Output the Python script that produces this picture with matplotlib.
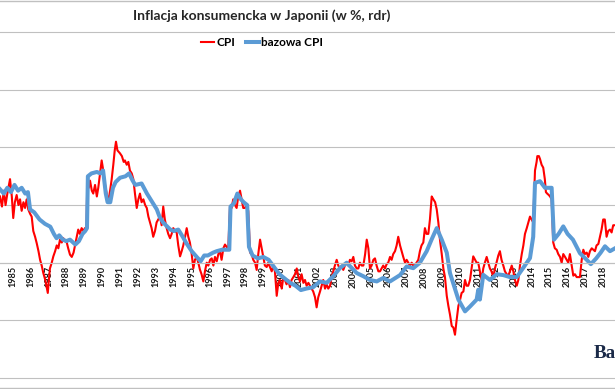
import matplotlib.pyplot as plt
from matplotlib.lines import Line2D

# headline CPI, y/y % (x = decimal year)
cpi_years = [
    1984.29, 1984.4, 1984.5, 1984.6, 1984.7, 1984.85, 1984.95, 1985.03, 1985.12, 1985.22,
    1985.32, 1985.41, 1985.5, 1985.6, 1985.69, 1985.78, 1985.87, 1985.97, 1986.06, 1986.15,
    1986.25, 1986.34, 1986.44, 1986.53, 1986.62, 1986.71, 1986.82, 1986.96, 1987.02, 1987.08,
    1987.18, 1987.27, 1987.37, 1987.46, 1987.55, 1987.64, 1987.74, 1987.83, 1987.92, 1988.02,
    1988.1, 1988.2, 1988.3, 1988.4, 1988.48, 1988.57, 1988.66, 1988.75, 1988.85, 1988.95,
    1989.04, 1989.12, 1989.17, 1989.25, 1989.32, 1989.42, 1989.5, 1989.6, 1989.7, 1989.78,
    1989.88, 1989.97, 1990.06, 1990.16, 1990.25, 1990.34, 1990.44, 1990.53, 1990.62, 1990.7,
    1990.77, 1990.85, 1990.99, 1991.1, 1991.2, 1991.27, 1991.37, 1991.46, 1991.55, 1991.65,
    1991.74, 1991.83, 1991.93, 1992.02, 1992.11, 1992.2, 1992.3, 1992.4, 1992.49, 1992.58,
    1992.67, 1992.76, 1992.85, 1992.95, 1993.04, 1993.13, 1993.23, 1993.32, 1993.41, 1993.5,
    1993.6, 1993.69, 1993.79, 1993.88, 1993.97, 1994.07, 1994.16, 1994.25, 1994.35, 1994.44,
    1994.53, 1994.63, 1994.72, 1994.81, 1994.9, 1995.0, 1995.09, 1995.18, 1995.28, 1995.37,
    1995.46, 1995.55, 1995.65, 1995.74, 1995.84, 1995.93, 1996.03, 1996.12, 1996.21, 1996.3,
    1996.4, 1996.49, 1996.58, 1996.67, 1996.77, 1996.86, 1996.95, 1997.04, 1997.14, 1997.23,
    1997.32, 1997.42, 1997.51, 1997.6, 1997.7, 1997.79, 1997.88, 1997.97, 1998.07, 1998.16,
    1998.26, 1998.35, 1998.44, 1998.54, 1998.63, 1998.72, 1998.82, 1998.91, 1999.0, 1999.09,
    1999.19, 1999.28, 1999.37, 1999.47, 1999.56, 1999.65, 1999.75, 1999.84, 1999.93, 2000.03,
    2000.12, 2000.21, 2000.3, 2000.4, 2000.49, 2000.58, 2000.68, 2000.77, 2000.87, 2000.96,
    2001.05, 2001.14, 2001.24, 2001.33, 2001.42, 2001.52, 2001.61, 2001.7, 2001.79, 2001.89,
    2001.98, 2002.07, 2002.17, 2002.26, 2002.35, 2002.45, 2002.54, 2002.63, 2002.73, 2002.82,
    2002.91, 2003.0, 2003.1, 2003.19, 2003.28, 2003.38, 2003.47, 2003.56, 2003.66, 2003.75,
    2003.84, 2003.94, 2004.03, 2004.12, 2004.22, 2004.31, 2004.4, 2004.5, 2004.59, 2004.69,
    2004.78, 2004.87, 2004.96, 2005.05, 2005.15, 2005.24, 2005.33, 2005.43, 2005.52, 2005.61,
    2005.7, 2005.8, 2005.89, 2005.98, 2006.08, 2006.17, 2006.26, 2006.36, 2006.45, 2006.54,
    2006.64, 2006.73, 2006.82, 2006.92, 2007.01, 2007.1, 2007.2, 2007.29, 2007.38, 2007.47,
    2007.56, 2007.66, 2007.75, 2007.84, 2007.94, 2008.03, 2008.12, 2008.22, 2008.31, 2008.41,
    2008.5, 2008.6, 2008.69, 2008.78, 2008.87, 2008.97, 2009.06, 2009.15, 2009.25, 2009.34,
    2009.43, 2009.53, 2009.62, 2009.71, 2009.8, 2009.9, 2009.99, 2010.08, 2010.18, 2010.27,
    2010.36, 2010.45, 2010.55, 2010.64, 2010.73, 2010.83, 2010.92, 2011.01, 2011.1, 2011.2,
    2011.29, 2011.38, 2011.48, 2011.57, 2011.66, 2011.75, 2011.85, 2011.94, 2012.03, 2012.13,
    2012.22, 2012.31, 2012.41, 2012.5, 2012.6, 2012.69, 2012.78, 2012.88, 2012.97, 2013.06,
    2013.16, 2013.25, 2013.34, 2013.44, 2013.53, 2013.62, 2013.72, 2013.81, 2013.9, 2013.99,
    2014.08, 2014.18, 2014.27, 2014.31, 2014.4, 2014.46, 2014.55, 2014.64, 2014.73, 2014.79,
    2014.86, 2014.95, 2015.02, 2015.11, 2015.2, 2015.29, 2015.39, 2015.48, 2015.58, 2015.67,
    2015.76, 2015.86, 2015.95, 2016.04, 2016.13, 2016.23, 2016.32, 2016.41, 2016.51, 2016.6,
    2016.69, 2016.79, 2016.88, 2016.97, 2017.07, 2017.16, 2017.25, 2017.35, 2017.44, 2017.53,
    2017.62, 2017.72, 2017.81, 2017.9, 2017.99, 2018.08, 2018.18, 2018.27, 2018.37, 2018.46,
    2018.55, 2018.65,
]
cpi_values = [
    2.3, 1.95, 2.5, 2.0, 2.4, 2.9, 2.3, 1.55, 2.1, 2.35,
    2.0, 2.2, 1.8, 2.1, 1.9, 2.2, 1.85, 1.7, 1.6, 1.1,
    0.9, 0.68, 0.4, 0.1, -0.1, -0.36, -0.6, -1.05, -0.6, -0.2,
    0.0, 0.22, 0.4, 0.6, 0.5, 0.8, 0.7, 0.85, 0.75, 0.7,
    0.5, 0.28, 0.2, 0.35, 0.6, 0.9, 1.15, 1.0, 1.2, 1.1,
    1.2, 1.2, 2.9, 2.6, 2.85, 2.5, 2.4, 2.7, 2.3, 2.6,
    3.1, 3.55, 3.2, 2.7, 2.4, 2.1, 2.5, 2.9, 3.4, 3.9,
    4.2, 3.9, 3.8, 3.7, 3.5, 3.55, 3.4, 3.5, 3.2, 3.1,
    2.9, 2.4, 1.9, 2.2, 2.4, 2.1, 2.2, 2.0, 1.9, 1.6,
    1.4, 1.2, 0.9, 1.1, 1.4, 1.5, 1.6, 1.3, 1.95, 1.5,
    1.2, 1.0, 0.85, 1.0, 1.2, 1.1, 1.05, 0.6, 0.22, 0.4,
    0.6, 0.9, 1.2, 0.9, 0.7, 0.3, -0.2, 0.1, 0.2, 0.0,
    -0.24, -0.4, -0.65, -0.3, 0.0, -0.1, 0.1, 0.15, -0.1, 0.2,
    0.05, 0.3, 0.4, 0.1, 0.5, 0.63, 0.55, 0.45, 1.95, 1.9,
    2.2, 2.0, 1.9, 2.3, 2.5, 2.2, 1.9, 1.9, 2.0, 1.8,
    0.35, 0.3, 0.1, 0.0, -0.25, 0.3, 0.8, 0.5, 0.2, -0.1,
    -0.15, 0.0, -0.15, -0.3, -0.1, -0.3, -1.15, -0.7, -0.6, -0.9,
    -0.5, -0.6, -0.75, -0.6, -0.85, -0.6, -0.5, -0.4, -0.2, -0.5,
    -0.65, -0.4, -0.7, -0.6, -0.8, -0.7, -0.8, -0.9, -1.0, -1.2,
    -1.55, -1.2, -1.0, -0.8, -0.6, -0.9, -0.75, -0.9, -0.8, -0.5,
    -0.3, -0.1, 0.1, -0.1, -0.2, -0.1, -0.25, -0.1, 0.0, -0.1,
    0.1, 0.05, 0.2, -0.1, -0.2, -0.2, 0.0, -0.1, -0.1, 0.3,
    0.8, 0.5, -0.2, -0.1, 0.1, 0.15, -0.1, -0.3, -0.3, -0.2,
    -0.1, -0.2, -0.05, 0.0, 0.2, 0.1, 0.3, 0.4, 0.6, 0.9,
    0.6, 0.4, 0.2, 0.0, 0.1, 0.0, -0.1, 0.0, -0.1, -0.1,
    0.0, 0.1, 0.4, 0.6, 0.7, 1.2, 1.0, 1.0, 1.5, 2.3,
    2.2, 2.1, 1.85, 1.4, 0.8, 0.3, -0.2, -0.5, -1.15, -1.5,
    -1.8, -2.2, -2.25, -2.5, -2.0, -1.5, -1.3, -1.05, -1.0, -0.6,
    -0.8, -0.8, -0.6, -0.2, 0.22, 0.1, 0.0, 0.0, -0.3, -0.6,
    -0.2, 0.0, 0.2, 0.0, -0.2, -0.3, -0.5, -0.2, 0.0, 0.25,
    0.4, 0.1, -0.1, -0.3, -0.4, -0.45, -0.3, -0.1, -0.3, -0.6,
    -0.8, -0.6, -0.1, 0.3, 0.6, 1.0, 1.2, 1.4, 1.6, 1.5,
    1.4, 3.2, 3.5, 3.7, 3.7, 3.6, 3.4, 3.3, 2.9, 2.45,
    2.4, 2.35, 2.3, 2.2, 0.7, 0.5, 0.45, 0.3, 0.2, 0.0,
    0.3, 0.2, 0.1, 0.0, 0.3, -0.1, -0.45, -0.4, -0.5, -0.5,
    -0.5, 0.1, 0.45, 0.3, 0.35, 0.2, 0.4, 0.5, 0.45, 0.4,
    0.6, 0.65, 0.9, 1.15, 1.5, 1.5, 0.9, 1.1, 1.15, 1.05,
    1.3, 1.3,
]

# core ("bazowa") CPI, y/y %
core_years = [
    1984.29, 1984.5, 1984.7, 1984.9, 1985.1, 1985.3, 1985.5, 1985.7, 1985.85, 1985.97,
    1986.2, 1986.5, 1986.8, 1987.1, 1987.3, 1987.45, 1987.6, 1987.8, 1988.0, 1988.2,
    1988.5, 1988.7, 1988.9, 1989.05, 1989.15, 1989.2, 1989.4, 1989.7, 1989.9, 1990.05,
    1990.2, 1990.3, 1990.45, 1990.6, 1990.75, 1991.0, 1991.3, 1991.5, 1991.7, 1991.85,
    1992.2, 1992.5, 1992.8, 1993.05, 1993.2, 1993.4, 1993.8, 1994.0, 1994.25, 1994.5,
    1994.7, 1995.0, 1995.28, 1995.5, 1995.7, 1995.9, 1996.2, 1996.4, 1996.7, 1997.0,
    1997.1, 1997.17, 1997.35, 1997.55, 1997.75, 1997.9, 1998.1, 1998.2, 1998.4, 1998.7,
    1999.0, 1999.3, 1999.6, 1999.9, 2000.2, 2000.5, 2000.8, 2001.1, 2001.4, 2001.79,
    2002.17, 2002.54, 2002.91, 2003.28, 2003.66, 2003.84, 2004.22, 2004.59, 2004.96, 2005.34,
    2005.7, 2006.08, 2006.64, 2007.01, 2007.38, 2007.75, 2008.13, 2008.4, 2008.69, 2008.97,
    2009.25, 2009.43, 2009.9, 2010.27, 2010.55, 2010.92, 2011.01, 2011.1, 2011.29, 2011.66,
    2012.04, 2012.41, 2012.78, 2013.16, 2013.5, 2013.9, 2014.08, 2014.18, 2014.46, 2014.74,
    2015.11, 2015.24, 2015.5, 2015.76, 2016.0, 2016.3, 2016.69, 2017.07, 2017.3, 2017.6,
    2017.85, 2018.09, 2018.37, 2018.65,
]
core_values = [
    2.55, 2.4, 2.6, 2.45, 2.7, 2.5, 2.6, 2.4, 2.45, 1.85,
    1.75, 1.5, 1.35, 1.25, 1.0, 0.85, 0.95, 0.8, 0.75, 0.8,
    0.63, 0.75, 1.0, 1.1, 1.2, 3.0, 3.1, 3.15, 3.1, 3.2,
    2.4, 2.1, 2.1, 2.6, 2.8, 2.95, 3.0, 3.1, 2.85, 2.7,
    2.75, 2.4, 2.1, 1.85, 1.6, 1.4, 1.15, 1.1, 1.15, 0.9,
    0.68, 0.4, 0.2, 0.05, 0.25, 0.25, 0.35, 0.4, 0.45, 0.45,
    0.45, 1.95, 2.05, 2.4, 2.2, 2.1, 2.0, 0.55, 0.25, 0.15,
    0.2, 0.1, -0.15, -0.4, -0.55, -0.7, -0.8, -0.95, -0.9, -0.85,
    -0.65, -0.7, -0.47, -0.19, 0.0, -0.12, -0.36, -0.47, -0.6, -0.65,
    -0.53, -0.65, -0.43, -0.13, -0.19, 0.0, 0.4, 0.8, 1.2, 0.8,
    0.35, -0.36, -1.28, -1.69, -1.52, -1.28, -0.94, -1.28, -0.42, -0.6,
    -0.4, -0.43, -0.5, -0.5, -0.2, 0.16, 0.9, 2.77, 2.83, 2.6,
    2.6, 0.8, 1.0, 1.26, 1.0, 0.8, 0.33, 0.1, -0.05, 0.15,
    0.35, 0.57, 0.4, 0.5,
]

years = list(range(1985, 2019))
grid_levels = [-4, -2, 0, 2, 4, 6, 8]

plt.rcParams['font.family'] = ['Lato', 'DejaVu Sans']

W, H = 615, 389
fig = plt.figure(figsize=(W / 100, H / 100), dpi=100)
ax = fig.add_axes([0, 0, 1, 1])

ax.plot(cpi_years, cpi_values, color='#ff0000', lw=1.5, label='CPI')
ax.plot(core_years, core_values, color='#5b9bd5', lw=2.9, label='bazowa CPI')

ax.set_xlim(1984.29, 2018.65)
ax.set_ylim(-4.385, 9.12)

# move the x axis to y = 0 first: set_position rebuilds the ticks
for side in ['top', 'left', 'right']:
    ax.spines[side].set_visible(False)
ax.spines['bottom'].set_position(('data', 0))
ax.spines['bottom'].set_color('#c0c0c0')
ax.spines['bottom'].set_linewidth(0.8)

ax.set_yticks(grid_levels)
ax.grid(axis='y', color='#c0c0c0', lw=0.8)
ax.set_axisbelow(True)
ax.tick_params(axis='y', left=False, labelleft=False)

ax.set_xticks(years)
ax.set_xticklabels([str(y) for y in years])
ax.tick_params(axis='x', length=0, pad=2.5, labelrotation=90, labelsize=6.6,
               labelcolor='#1a1a1a')
for lab in ax.get_xticklabels():
    lab.set_fontweight('bold')

# chart title + legend sit on the centre of the (cropped) chart
fig.text(262 / W, 1 - 16 / H, 'Inflacja konsumencka w Japonii (w %, rdr)',
         ha='center', va='center', fontsize=10, fontweight='bold', color='#262626')
ax.legend(loc='center', bbox_to_anchor=(262 / W, 1 - 43 / H),
          bbox_transform=fig.transFigure, ncol=2, frameon=False,
          handlelength=1.1, handletextpad=0.15, columnspacing=0.9,
          prop={'weight': 'bold', 'size': 8.5})

# chart-area border lines
for yp in [0.7, 388.3]:
    fig.add_artist(Line2D([0, 1], [1 - yp / H] * 2, color='#c0c0c0', lw=1.0,
                          transform=fig.transFigure))

fig.text(594 / W, 1 - 358 / H, 'Ba', family='Liberation Serif', fontweight='bold',
         fontsize=13.8, color='#1b2a48', ha='left', va='baseline')

fig.savefig('out.png', dpi=100)
plt.close(fig)
